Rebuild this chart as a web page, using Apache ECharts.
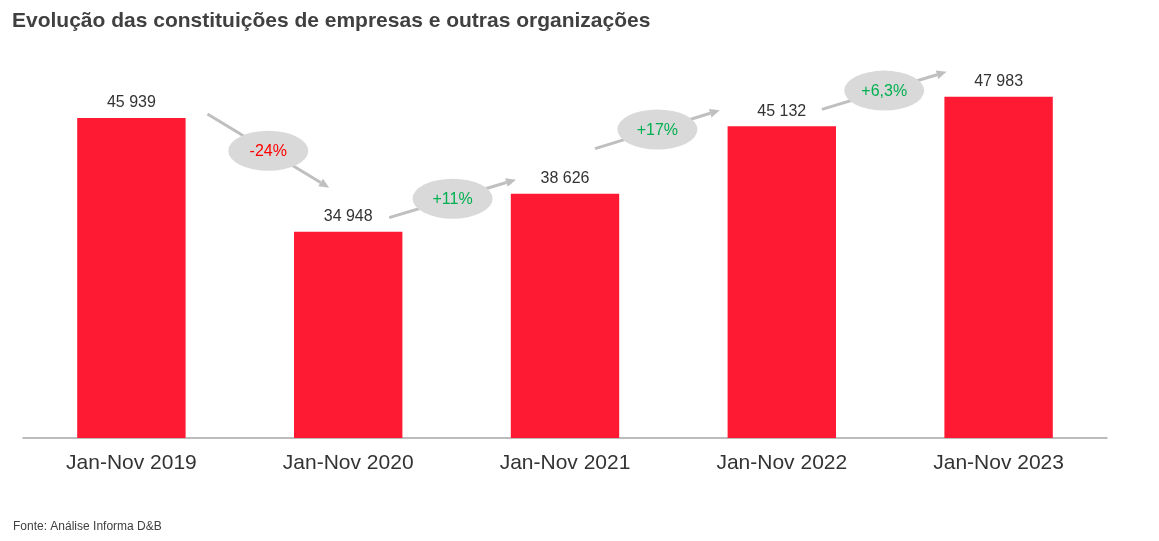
<!DOCTYPE html>
<html>
<head>
<meta charset="utf-8">
<script src="https://cdn.jsdelivr.net/npm/echarts@6/dist/echarts.min.js"></script>
<style>
html,body{margin:0;padding:0;background:#fff;}
#chart{width:1159px;height:541px;}
</style>
</head>
<body>
<div id="chart"></div>
<script>
const titleText = 'Evolução das constituições de empresas e outras organizações';
const sourceText = 'Fonte: Análise Informa D&B';
const categories = ['Jan-Nov 2019', 'Jan-Nov 2020', 'Jan-Nov 2021', 'Jan-Nov 2022', 'Jan-Nov 2023'];
const values = [45939, 34948, 38626, 45132, 47983];
const changeLabels = ['-24%', '+11%', '+17%', '+6,3%'];
const changeUp = [false, true, true, true];

const FONT = '"Liberation Sans", Arial, sans-serif';
// arrow layout: pixel offsets from bar-top centre of bar i (start) and bar i+1 (end)
const arrowLayout = [
  { s: [76, -4], e: [-19, -44] },
  { s: [41, -14], e: [-49, -14] },
  { s: [30, -45], e: [-62, -16] },
  { s: [40, -17], e: [-52, -25] }
];

function fmt(v) {
  return String(v).replace(/\B(?=(\d{3})+(?!\d))/g, ' ');
}

const chart = echarts.init(document.getElementById('chart'), null, { renderer: 'canvas' });

function renderArrow(params, api) {
  const i = api.value(0);
  const a = api.coord([i, values[i]]);
  const b = api.coord([i + 1, values[i + 1]]);
  const L = arrowLayout[i];
  const x1 = a[0] + L.s[0], y1 = a[1] + L.s[1];
  const x2 = b[0] + L.e[0], y2 = b[1] + L.e[1];
  const dx = x2 - x1, dy = y2 - y1;
  const len = Math.sqrt(dx * dx + dy * dy);
  const ux = dx / len, uy = dy / len;
  const hl = 10, hw = 4.5;
  const bx = x2 - ux * hl, by = y2 - uy * hl;
  const cx = (x1 + x2) / 2, cy = (y1 + y2) / 2;
  return {
    type: 'group',
    children: [
      { type: 'line', shape: { x1: x1, y1: y1, x2: bx, y2: by },
        style: { stroke: '#BFBFBF', lineWidth: 3 } },
      { type: 'polygon', shape: { points: [[x2, y2], [bx - uy * hw, by + ux * hw], [bx + uy * hw, by - ux * hw]] },
        style: { fill: '#BFBFBF' } },
      { type: 'circle', x: cx, y: cy, scaleX: 2, scaleY: 1,
        shape: { cx: 0, cy: 0, r: 20 }, style: { fill: '#D9D9D9' } },
      { type: 'text', x: cx, y: cy + 1,
        style: { text: changeLabels[i], fill: changeUp[i] ? '#00B050' : '#FF0000',
          font: '16px ' + FONT, align: 'center', verticalAlign: 'middle' } }
    ]
  };
}

const option = {
  backgroundColor: '#ffffff',
  animation: false,
  title: [
    { text: titleText, left: 7, top: 6,
      textStyle: { fontFamily: FONT, fontSize: 21, fontWeight: 'bold', color: '#404040' } },
    { text: sourceText, left: 8, top: 516,
      textStyle: { fontFamily: FONT, fontSize: 12, fontWeight: 'normal', color: '#404040' } }
  ],
  grid: { left: 23, right: 52, top: 76, bottom: 103, containLabel: false },
  xAxis: {
    type: 'category',
    data: categories,
    axisLine: { lineStyle: { color: '#A6A6A6', width: 1.5 } },
    axisTick: { show: false },
    axisLabel: { fontFamily: FONT, fontSize: 21, color: '#333333', margin: 15 }
  },
  yAxis: {
    type: 'value',
    min: 15000,
    max: 50000,
    show: false,
    splitLine: { show: false }
  },
  series: [
    {
      type: 'bar',
      data: values,
      barWidth: '50%',
      itemStyle: { color: '#FF1A33' },
      label: {
        show: true, position: 'top', distance: 7,
        fontFamily: FONT, fontSize: 16, color: '#333333',
        formatter: p => fmt(p.value)
      },
      z: 2
    },
    {
      type: 'custom',
      data: changeLabels.map((t, i) => [i]),
      renderItem: renderArrow,
      clip: false,
      silent: true,
      z: 3
    }
  ]
};
chart.setOption(option);
</script>
</body>
</html>
